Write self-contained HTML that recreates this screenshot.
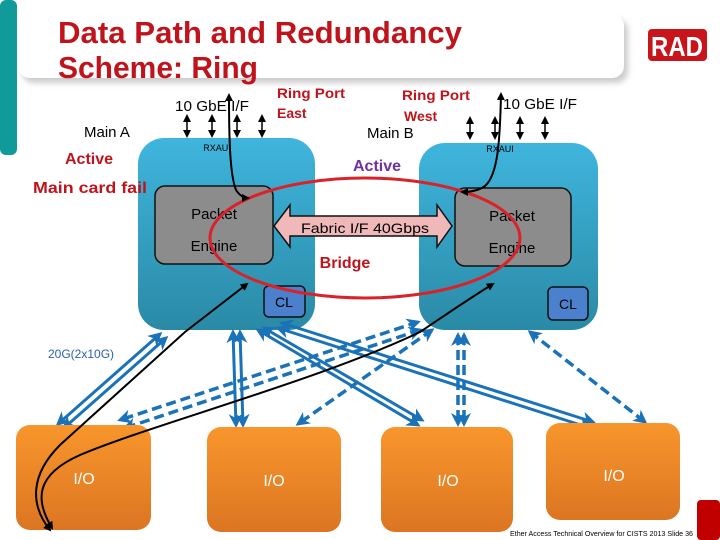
<!DOCTYPE html>
<html><head><meta charset="utf-8"><style>
html,body{margin:0;padding:0;background:#fff;}
svg{display:block;font-family:"Liberation Sans",sans-serif;}
</style></head><body>
<svg width="720" height="540" viewBox="0 0 720 540" xmlns="http://www.w3.org/2000/svg">
<defs>
<linearGradient id="bl" x1="0" y1="0" x2="0" y2="1"><stop offset="0" stop-color="#3fb5dd"/><stop offset="1" stop-color="#2a8aa6"/></linearGradient>
<linearGradient id="or" x1="0" y1="0" x2="0" y2="1"><stop offset="0" stop-color="#f8962c"/><stop offset="1" stop-color="#dc7522"/></linearGradient>
<marker id="bk" markerWidth="8" markerHeight="8" refX="6" refY="4" orient="auto-start-reverse" markerUnits="userSpaceOnUse"><path d="M0,0 L8,4 L0,8 z" fill="#000"/></marker>
<marker id="bu" markerWidth="14" markerHeight="14" refX="11" refY="7" orient="auto-start-reverse" markerUnits="userSpaceOnUse"><path d="M0,0 L14,7 L0,14 L4,7 z" fill="#1a72b8"/></marker>
<filter id="sh"><feGaussianBlur stdDeviation="3"/></filter>
</defs>
<rect x="0" y="0" width="17" height="155" rx="6" fill="#109a9a"/>
<rect x="22" y="19" width="606" height="64" rx="12" fill="#ccc" filter="url(#sh)"/>
<rect x="18" y="14" width="606" height="64" rx="12" fill="#fff"/>
<text x="58" y="43" font-size="31" font-weight="bold" fill="#c0141c" textLength="404" lengthAdjust="spacingAndGlyphs">Data Path and Redundancy</text>
<text x="58" y="78" font-size="31" font-weight="bold" fill="#c0141c" textLength="200" lengthAdjust="spacingAndGlyphs">Scheme: Ring</text>
<rect x="648" y="29" width="59" height="32" rx="4" fill="#c8151b"/>
<text x="677" y="56" font-size="28" font-weight="bold" fill="#fff" text-anchor="middle" textLength="52" lengthAdjust="spacingAndGlyphs">RAD</text>

<rect x="138" y="138" width="177" height="192" rx="26" fill="url(#bl)"/>
<rect x="419" y="143" width="179" height="187" rx="26" fill="url(#bl)"/>
<rect x="155" y="186" width="118" height="78" rx="10" fill="#8c8c8c" stroke="#111" stroke-width="1.5"/>
<rect x="455" y="188" width="116" height="78" rx="10" fill="#8c8c8c" stroke="#111" stroke-width="1.5"/>
<rect x="264" y="286" width="41" height="31" rx="5" fill="#4a80cc" stroke="#111" stroke-width="1.5"/>
<rect x="548" y="287" width="40" height="33" rx="5" fill="#4a80cc" stroke="#111" stroke-width="1.5"/>
<text x="284" y="307" font-size="14" text-anchor="middle">CL</text>
<text x="568" y="309" font-size="14" text-anchor="middle">CL</text>
<text x="214" y="219" font-size="15" text-anchor="middle">Packet</text>
<text x="214" y="251" font-size="15" text-anchor="middle">Engine</text>
<text x="512" y="221" font-size="15" text-anchor="middle">Packet</text>
<text x="512" y="253" font-size="15" text-anchor="middle">Engine</text>
<text x="217" y="151" font-size="9" text-anchor="middle">RXAUI</text>
<text x="500" y="152" font-size="9" text-anchor="middle">RXAUI</text>

<path d="M274,226 L290,205 L290,216 L437,216 L437,205 L452,226 L437,247 L437,236 L290,236 L290,247 Z" fill="#f0b8b8" stroke="#111" stroke-width="1.5"/>
<text x="365" y="233" font-size="14" text-anchor="middle" textLength="128" lengthAdjust="spacingAndGlyphs">Fabric I/F 40Gbps</text>
<ellipse cx="365" cy="238" rx="155" ry="60" fill="none" stroke="#d8232a" stroke-width="3"/>
<text x="345" y="268" font-size="16" font-weight="bold" fill="#c0141c" text-anchor="middle">Bridge</text>

<text x="175" y="111" font-size="15" textLength="74" lengthAdjust="spacingAndGlyphs">10 GbE I/F</text>
<text x="277" y="98" font-size="14" font-weight="bold" fill="#c0141c" textLength="68" lengthAdjust="spacingAndGlyphs">Ring Port</text>
<text x="277" y="118" font-size="14" font-weight="bold" fill="#c0141c">East</text>
<text x="402" y="100" font-size="14" font-weight="bold" fill="#c0141c" textLength="68" lengthAdjust="spacingAndGlyphs">Ring Port</text>
<text x="404" y="121" font-size="14" font-weight="bold" fill="#c0141c">West</text>
<text x="84" y="137" font-size="15">Main A</text>
<text x="367" y="138" font-size="15">Main B</text>
<text x="503" y="109" font-size="15" textLength="74" lengthAdjust="spacingAndGlyphs">10 GbE I/F</text>
<text x="65" y="164" font-size="16" font-weight="bold" fill="#c0141c">Active</text>
<text x="33" y="193" font-size="16" font-weight="bold" fill="#c0141c" textLength="114" lengthAdjust="spacingAndGlyphs">Main card fail</text>
<text x="353" y="171" font-size="16" font-weight="bold" fill="#7030a0">Active</text>

<g stroke="#000" stroke-width="1.5" marker-start="url(#bk)" marker-end="url(#bk)">
<line x1="187" y1="116" x2="187" y2="136"/><line x1="212" y1="116" x2="212" y2="136"/><line x1="237" y1="116" x2="237" y2="136"/><line x1="262" y1="116" x2="262" y2="136"/>
<line x1="470" y1="118" x2="470" y2="138"/><line x1="495" y1="118" x2="495" y2="138"/><line x1="520" y1="118" x2="520" y2="138"/><line x1="545" y1="118" x2="545" y2="138"/>
</g>

<g fill="none" stroke="#1a72b8" stroke-width="3" marker-start="url(#bu)" marker-end="url(#bu)">
<line x1="160" y1="334" x2="58" y2="424"/><line x1="166" y1="338" x2="64" y2="428" marker-start="" marker-end=""/>
<line x1="233" y1="332" x2="236" y2="425"/><line x1="240" y1="332" x2="243" y2="425" marker-start="" marker-end=""/>
<line x1="258" y1="330" x2="418" y2="425"/><line x1="264" y1="328" x2="422" y2="420" marker-start="" marker-end=""/>
<line x1="278" y1="328" x2="590" y2="428"/><line x1="282" y1="323" x2="593" y2="422" marker-start="" marker-end=""/>
</g>
<g fill="none" stroke="#1a72b8" stroke-width="3.5" stroke-dasharray="10,5" marker-start="url(#bu)" marker-end="url(#bu)">
<line x1="418" y1="322" x2="120" y2="420"/><line x1="420" y1="330" x2="125" y2="428" marker-start="" marker-end=""/>
<line x1="432" y1="330" x2="298" y2="424"/>
<line x1="458" y1="335" x2="458" y2="424"/><line x1="464" y1="335" x2="464" y2="424" marker-start="" marker-end=""/>
<line x1="530" y1="332" x2="645" y2="422"/>
</g>
<text x="48" y="358" font-size="12" fill="#2b5fb0">20G(2x10G)</text>

<rect x="16" y="425" width="135" height="105" rx="14" fill="url(#or)"/>
<rect x="207" y="427" width="134" height="105" rx="14" fill="url(#or)"/>
<rect x="381" y="427" width="132" height="105" rx="14" fill="url(#or)"/>
<rect x="546" y="423" width="134" height="97" rx="14" fill="url(#or)"/>
<text x="84" y="484" font-size="16" fill="#fff" text-anchor="middle">I/O</text>
<text x="274" y="486" font-size="16" fill="#fff" text-anchor="middle">I/O</text>
<text x="448" y="486" font-size="16" fill="#fff" text-anchor="middle">I/O</text>
<text x="614" y="481" font-size="16" fill="#fff" text-anchor="middle">I/O</text>

<g fill="none" stroke="#000" stroke-width="2" marker-start="url(#bk)" marker-end="url(#bk)">
<path d="M229,95 C229,140 230,175 236,190 C240,196 244,198 248,198"/>
<path d="M501,94 C500,140 498,175 485,186 C478,191 470,192 462,192"/>
<path d="M50,530 C30,505 30,475 60,445 L185,332 L247,284"/>
<path d="M52,528 C35,500 35,475 80,455 C150,425 320,380 420,332 C450,312 470,298 493,284"/>
</g>
<rect x="697" y="500" width="23" height="40" rx="4" fill="#c00000"/>
<text x="510" y="536" font-size="7.5" textLength="183" lengthAdjust="spacingAndGlyphs">Ether Access Technical Overview for CISTS 2013 Slide 36</text>
</svg>
</body></html>
